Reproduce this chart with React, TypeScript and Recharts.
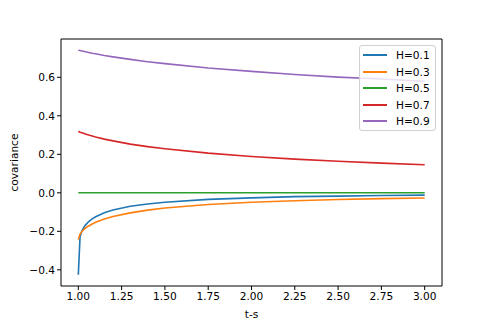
import { LineChart, Line, XAxis, YAxis, ReferenceLine } from "recharts";

// t-s sample points
const lags = [1.0, 1.01, 1.02, 1.03, 1.04, 1.06, 1.08, 1.1, 1.15, 1.2, 1.3, 1.4, 1.5, 1.75, 2.0, 2.25, 2.5, 2.75, 3.0];

const h01 = [-0.426, -0.228, -0.2, -0.182, -0.169, -0.149, -0.135, -0.124, -0.104, -0.089, -0.07, -0.058, -0.049, -0.034, -0.026, -0.02, -0.017, -0.014, -0.012];
const h03 = [-0.242, -0.214, -0.202, -0.192, -0.184, -0.172, -0.162, -0.153, -0.136, -0.123, -0.104, -0.09, -0.079, -0.061, -0.049, -0.041, -0.035, -0.03, -0.027];
const h05 = [0, 0, 0, 0, 0, 0, 0, 0, 0, 0, 0, 0, 0, 0, 0, 0, 0, 0, 0];
const h07 = [0.32, 0.315, 0.312, 0.309, 0.306, 0.3, 0.295, 0.29, 0.279, 0.27, 0.253, 0.24, 0.229, 0.206, 0.189, 0.175, 0.164, 0.154, 0.146];
const h09 = [0.741, 0.739, 0.737, 0.735, 0.733, 0.729, 0.725, 0.722, 0.713, 0.706, 0.693, 0.681, 0.671, 0.648, 0.631, 0.615, 0.601, 0.591, 0.579];

const xTicks = [1.0, 1.25, 1.5, 1.75, 2.0, 2.25, 2.5, 2.75, 3.0];
const yTicks = [-0.4, -0.2, 0.0, 0.2, 0.4, 0.6];
const xDomain = [0.9, 3.1];
const yDomain = [-0.484, 0.799];

const series = [
  { key: "H=0.1", values: h01, color: "#1f77b4" },
  { key: "H=0.3", values: h03, color: "#ff7f0e" },
  { key: "H=0.5", values: h05, color: "#2ca02c" },
  { key: "H=0.7", values: h07, color: "#d62728" },
  { key: "H=0.9", values: h09, color: "#9467bd" },
];

const data = lags.map((x, i) => {
  const row: Record<string, number> = { x };
  series.forEach((s) => (row[s.key] = s.values[i]));
  return row;
});

const font = "DejaVu Sans, sans-serif";
const tickStyle = { fontSize: 10.6, fill: "#000", fontFamily: font };
const fmtY = (v: number) => v.toFixed(1).replace("-", "\u2212");

function LegendBox() {
  return (
    <div
      style={{
        position: "absolute",
        left: 359,
        top: 45,
        boxSizing: "border-box",
        width: 77,
        height: 86,
        border: "1px solid #d0d0d0",
        borderRadius: 3,
        background: "rgba(255,255,255,0.8)",
        paddingTop: 1,
        fontFamily: font,
        fontSize: 10.6,
      }}
    >
      {series.map((s) => (
        <div key={s.key} style={{ display: "flex", alignItems: "center", height: 16.5 }}>
          <div style={{ width: 24, height: 2, background: s.color, marginLeft: 3, marginRight: 9 }} />
          <span>{s.key}</span>
        </div>
      ))}
    </div>
  );
}

export default function App() {
  return (
    <div style={{ position: "absolute", left: 0, top: 0, width: 491, height: 327, background: "#fff" }}>
      <LineChart width={491} height={327} data={data} margin={{ top: 39, right: 49, bottom: 0, left: 0 }}>
        <XAxis
          dataKey="x"
          type="number"
          domain={xDomain}
          allowDataOverflow
          ticks={xTicks}
          tickFormatter={(v: number) => v.toFixed(2)}
          tick={tickStyle}
          tickSize={4}
          height={41}
          stroke="#000"
          label={{ value: "t-s", position: "insideBottom", offset: 9, style: { fontSize: 10.6, fontFamily: font, fill: "#000" } }}
        />
        <YAxis
          type="number"
          domain={yDomain}
          allowDataOverflow
          ticks={yTicks}
          tickFormatter={fmtY}
          tick={tickStyle}
          tickSize={4}
          width={61}
          stroke="#000"
          label={{ value: "covariance", angle: -90, position: "insideLeft", offset: 14, style: { fontSize: 10.6, fontFamily: font, fill: "#000", textAnchor: "middle" } }}
        />
        <ReferenceLine y={yDomain[1]} stroke="#000" ifOverflow="visible" />
        <ReferenceLine x={xDomain[1]} stroke="#000" ifOverflow="visible" />
        {series.map((s) => (
          <Line
            key={s.key}
            dataKey={s.key}
            stroke={s.color}
            strokeWidth={1.6}
            dot={false}
            type="linear"
            isAnimationActive={false}
          />
        ))}
      </LineChart>
      <LegendBox />
    </div>
  );
}
